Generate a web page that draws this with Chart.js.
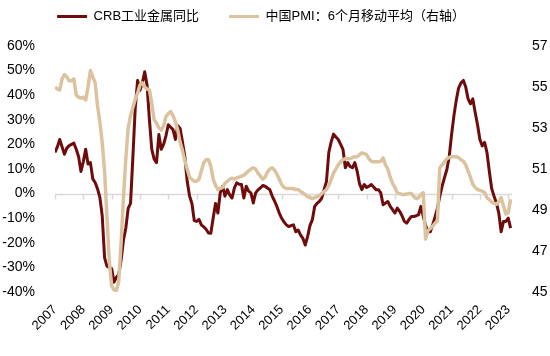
<!DOCTYPE html>
<html><head><meta charset="utf-8">
<script src="https://cdn.jsdelivr.net/npm/chart.js@4"></script>
<style>html,body{margin:0;padding:0;background:#fff}</style>
</head><body>
<canvas id="c" width="550" height="356"></canvas>
<script>
const years = ['2007','2008','2009','2010','2011','2012','2013','2014','2015','2016','2017','2018','2019','2020','2021','2022','2023'];
const seriesNames = ['CRB工业金属同比', '中国PMI：6个月移动平均（右轴）'];
// CRB industrial metals YoY (%), monthly from Jan 2007
const crb = [
 16.7, 19, 22, 19, 16, 18.5, 19.5, 20, 20.5, 18, 15, 9,
 13, 18, 12, 12.6, 6, 4.5, 2, -1.5, -9, -26, -29.5, -30,
 -30.5, -36, -34, -33, -27, -19, -14, -6, -4, 15, 35, 46,
 42, 45, 49.5, 44, 30, 18, 14, 12.6, 24, 18, 20, 23.5,
 28, 27, 26, 22, 27.6, 26.5, 21, 15, 5, -1, -4, -11,
 -11.3, -10.5, -12.7, -13.5, -14.5, -16, -16.1, -10, -4, -7.9, 0.3, 3,
 -1, 1.6, -0.5, -1.8, 2.3, 4.4, 3.8, 3.7, -1.8, 3, 1, 0.3,
 -3.8, 0.3, 1.5, 2.3, 3.3, 3, 2.3, 1.6, -1, -3, -5.2, -7.9,
 -10, -11.5, -12.7, -13.4, -13, -12.7, -15.5, -14.8, -16.8, -18.2, -20.9, -17.5,
 -13, -10.7, -5.2, -4, -3.2, -1.8, 1.6, 5, 16.8, 21, 24.2, 23,
 22, 20, 18, 10.5, 12.6, 11, 10.5, 12.6, 9.1, 4, 1.6, 3.7,
 2.5, 3, 3.7, 2.7, 1.6, 1.6, 0.3, -4.5, -3.8, -3.2, -5.2, -6.5,
 -7.9, -5.9, -7.2, -9, -11.3, -12, -10.5, -9.3, -9.3, -9, -8.6, -5.2,
 -9.3, -13, -15.5, -15.5, -12.7, -9.5, -6, -1.1, 3, 6.5, 9.8, 15,
 24, 31.7, 38, 43, 45, 46, 43.3, 38.5, 36.5, 38.5, 33, 28,
 22, 19.4, 20.8, 16.7, 9, 2, -1.1, -3.8, -7.9, -15.5, -11.3, -11.3,
 -10, -14
];
// China PMI, 6-month moving average (right axis)
const pmi = [
 55.0, 54.9, 54.86, 55.4, 55.6, 55.5, 55.3, 55.3, 55.4, 54.6, 54.5, 54.46,
 54.5, 54.37, 55.0, 55.8, 55.5, 55.2, 54.1, 53.3, 52.3, 50.9, 48.7, 46.5,
 45.3, 45.1, 45.07, 45.5, 47.4, 49.6, 51.5, 53.0, 53.6, 54.0, 54.4, 54.7,
 55.1, 55.2, 55.0, 54.9, 54.86, 54.2, 53.4, 53.24, 53.0, 52.9, 53.1, 53.56,
 53.7, 53.8, 53.6, 53.3, 52.9, 52.3, 51.9, 51.4, 51.0, 50.6, 50.5, 50.4,
 50.4, 50.5, 50.9, 51.3, 51.45, 51.46, 51.14, 50.5, 50.2, 50.0, 50.05, 50.1,
 50.3, 50.4, 50.5, 50.55, 50.5, 50.57, 50.6, 50.65, 50.7, 50.8, 50.9, 51.0,
 51.06, 51.0, 50.8, 50.65, 50.5, 50.6, 50.85, 51.0, 51.06, 50.95, 50.75, 50.5,
 50.25, 50.1, 50.05, 50.05, 50.05, 50.04, 50.0, 50.0, 49.9, 49.84, 49.75, 49.65,
 49.6, 49.55, 49.6, 49.65, 49.7, 49.8, 49.9, 50.0, 50.2, 50.5, 50.8, 51.0,
 51.2, 51.35, 51.46, 51.5, 51.5, 51.5, 51.55, 51.6, 51.6, 51.7, 51.79, 51.75,
 51.7, 51.5, 51.38, 51.35, 51.35, 51.35, 51.38, 51.54, 51.2, 51.0, 50.6, 50.3,
 50.1, 49.84, 49.8, 49.76, 49.76, 49.78, 49.8, 49.8, 49.65, 49.55, 49.6, 49.76,
 49.84, 47.58, 48.0, 48.1, 48.22, 48.35, 48.47, 51.06, 51.2, 51.35, 51.5, 51.56,
 51.6, 51.6, 51.6, 51.55, 51.45, 51.38, 51.2, 50.9, 50.6, 50.25, 50.1, 50.0,
 49.96, 49.92, 49.85, 49.6, 49.5, 49.39, 49.32, 49.28, 49.4, 49.6, 49.2, 48.8,
 48.87, 49.52
];
const leftTicks = {min:-40, max:60, step:10};
const rightTicks = {min:45, max:57, step:2};

const FONT = "'Liberation Sans', Arial, 'Noto Sans CJK SC', sans-serif";
Chart.defaults.font.family = FONT;
Chart.defaults.color = '#000';

const zeroLine = {
  id: 'zeroLine',
  beforeDatasetsDraw(chart) {
    const {ctx, chartArea: a, scales: {x, y}} = chart;
    const y0 = Math.round(y.getPixelForValue(0)) + 0.5;
    ctx.save();
    ctx.strokeStyle = '#d9d9d9';
    ctx.lineWidth = 1.5;
    ctx.beginPath();
    ctx.moveTo(a.left, y0); ctx.lineTo(a.right, y0);
    x.ticks.forEach(t => {
      const px = Math.round(x.getPixelForValue(t.value)) + 0.5;
      ctx.moveTo(px, y0); ctx.lineTo(px, y0 + 5);
    });
    ctx.stroke();
    ctx.restore();
  }
};
const legendFit = {
  id: 'legendFit',
  beforeLayout(chart) {
    const lg = chart.legend;
    if (lg && !lg._patched) {
      const f = lg.fit;
      lg.fit = function() { f.call(this); this.height = 66; };
      lg._patched = true;
    }
  },
  afterLayout(chart) {
    const lg = chart.legend;
    if (lg) { lg.right = lg.left + 522; }
  }
};

new Chart(document.getElementById('c'), {
  type: 'line',
  data: {
    datasets: [
      {label: seriesNames[0], data: crb.map((v, i) => ({x: i, y: v})), yAxisID: 'y',
       borderColor: '#6E0B0B', backgroundColor: '#6E0B0B', borderWidth: 3, pointRadius: 0,
       borderJoinStyle: 'round', order: 1},
      {label: seriesNames[1], data: pmi.map((v, i) => ({x: i, y: v})), yAxisID: 'y2',
       borderColor: '#DCC39F', backgroundColor: '#DCC39F', borderWidth: 3.5, pointRadius: 0,
       borderJoinStyle: 'round', order: 0}
    ]
  },
  options: {
    responsive: false,
    animation: false,
    layout: {padding: {top: -20, right: 0, left: 0, bottom: 0}},
    plugins: {
      tooltip: {enabled: false},
      legend: {
        labels: {
          boxWidth: 30, boxHeight: 3, padding: 30,
          font: {size: 13, family: FONT}, color: '#000',
          sort: (a, b) => a.datasetIndex - b.datasetIndex,
          generateLabels: (chart) => Chart.defaults.plugins.legend.labels.generateLabels(chart)
            .map(l => Object.assign(l, {lineWidth: 0}))
        }
      }
    },
    scales: {
      x: {
        type: 'linear', min: 0, max: 193.6,
        grid: {display: false}, border: {display: false},
        afterBuildTicks: s => { s.ticks = years.map((y, k) => ({value: k * 12})); },
        ticks: {autoSkip: false, minRotation: 45, maxRotation: 45, padding: 2,
                font: {size: 13}, callback: v => years[Math.round(v / 12)]},
        afterFit: s => { s.height = 64; }
      },
      y: {
        position: 'left', min: leftTicks.min, max: leftTicks.max,
        grid: {display: false}, border: {display: false},
        ticks: {stepSize: leftTicks.step, padding: 12, font: {size: 14}, callback: v => v + '%'},
        afterFit: s => { s.width = 55; }
      },
      y2: {
        position: 'right', min: rightTicks.min, max: rightTicks.max,
        grid: {display: false}, border: {display: false},
        ticks: {stepSize: rightTicks.step, padding: 12, font: {size: 14}},
        afterFit: s => { s.width = 38; }
      }
    }
  },
  plugins: [zeroLine, legendFit]
});
</script>
</body></html>
